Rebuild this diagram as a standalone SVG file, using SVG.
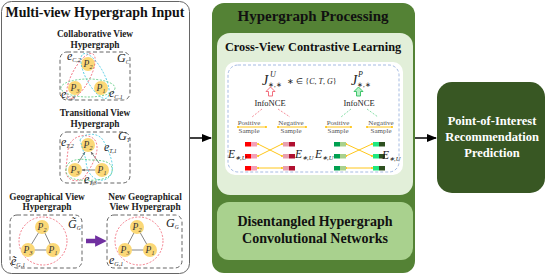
<svg xmlns="http://www.w3.org/2000/svg" width="550" height="276" viewBox="0 0 550 276">
<defs>
<style>
.ser{font-family:"Liberation Serif","Times New Roman",Times,serif}
.it{font-style:italic}
.ttl{font-family:"Liberation Serif","Times New Roman",Times,serif;font-weight:bold;fill:#111}
.sub{font-family:"Liberation Serif","Times New Roman",Times,serif;font-weight:bold;font-size:9.3px;fill:#222;text-anchor:middle}
.gbox{fill:none;stroke:#666;stroke-width:1;stroke-dasharray:4 2.5}
.node{fill:#fbd877;stroke:none}
.pl{font-family:"Liberation Serif","Times New Roman",serif;font-style:italic;font-size:9.5px;fill:#333;text-anchor:middle}
.el{font-family:"Liberation Serif","Times New Roman",serif;font-style:italic;font-size:12px;fill:#222}
.hr{fill:none;stroke:#f06070;stroke-width:0.8;stroke-dasharray:2 1.5}
.hb{fill:none;stroke:#40c8e0;stroke-width:0.8;stroke-dasharray:2 1.5}
.hg{fill:none;stroke:#50c878;stroke-width:0.8;stroke-dasharray:2 1.5}
.edge{stroke:#666;stroke-width:0.8;fill:none}
.ol{stroke:#ffc000;stroke-width:0.9;fill:none;marker-start:url(#dot);marker-end:url(#dot)}
.smp{font-family:"Liberation Serif","Times New Roman",serif;font-size:7px;fill:#555;text-anchor:middle}
.nce{font-family:"Liberation Serif","Times New Roman",serif;font-size:8.5px;fill:#222;text-anchor:middle}
.E{font-family:"Liberation Serif","Times New Roman",serif;font-style:italic;font-size:11.5px;fill:#222}
.wt{fill:#fff}
</style>
<marker id="ah" viewBox="0 0 10 10" refX="9" refY="5" markerWidth="7" markerHeight="7" orient="auto"><path d="M0,1 L10,5 L0,9 z" fill="#000"/></marker>
<marker id="sa" viewBox="0 0 10 10" refX="9" refY="5" markerWidth="4" markerHeight="4" orient="auto"><path d="M0,1 L10,5 L0,9 z" fill="#666"/></marker>
<marker id="pa" viewBox="0 0 10 10" refX="5" refY="5" markerWidth="2.6" markerHeight="2.6" orient="auto"><path d="M0,0 L10,5 L0,10 z" fill="#7030a0"/></marker>
<marker id="dot" viewBox="0 0 4 4" refX="2" refY="2" markerWidth="2.2" markerHeight="2.2"><circle cx="2" cy="2" r="2" fill="#ffc000"/></marker>
</defs>

<!-- Left panel -->
<g id="input-panel">
<rect x="1.5" y="1.5" width="188" height="272" rx="10" fill="#fff" stroke="#666" stroke-width="1"/>
<text class="ttl" x="95" y="17" font-size="15.5" text-anchor="middle" textLength="179" lengthAdjust="spacingAndGlyphs">Multi-view Hypergraph Input</text>
</g>

<g id="collaborative-view">
<text class="sub" x="95" y="37">Collaborative View</text>
<text class="sub" x="95" y="48">Hypergraph</text>
<rect class="gbox" x="60" y="52" width="70" height="48" rx="7"/>
<circle class="node" cx="88" cy="64" r="7"/>
<circle class="node" cx="75" cy="88" r="7"/>
<circle class="node" cx="101" cy="88" r="7"/>
<ellipse class="hr" cx="81" cy="76" rx="25" ry="9" transform="rotate(-62 81 76)"/>
<ellipse class="hb" cx="95" cy="76" rx="25" ry="9" transform="rotate(62 95 76)"/>
<ellipse class="hg" cx="88" cy="88" rx="27" ry="9"/>
<text class="pl" x="88" y="67">P<tspan font-size="6" dy="2">2</tspan></text>
<text class="pl" x="75" y="91">P<tspan font-size="6" dy="2">3</tspan></text>
<text class="pl" x="101" y="91">P<tspan font-size="6" dy="2">1</tspan></text>
<text class="el" x="67" y="60">e<tspan font-size="6" dy="2">C,2</tspan></text>
<text class="el" x="117" y="62" font-size="9.5">G<tspan font-size="5.5" dy="2">C</tspan></text>
<text class="el" x="61" y="98">e<tspan font-size="6" dy="2">C,3</tspan></text>
<text class="el" x="109" y="97">e<tspan font-size="6" dy="2">C,1</tspan></text>
</g>

<g id="transitional-view">
<text class="sub" x="95" y="116">Transitional View</text>
<text class="sub" x="95" y="127">Hypergraph</text>
<rect class="gbox" x="60" y="132" width="70" height="51" rx="7"/>
<circle class="node" cx="88" cy="145" r="7"/>
<circle class="node" cx="75" cy="170" r="7"/>
<circle class="node" cx="102" cy="170" r="7"/>
<line class="edge" x1="78" y1="163" x2="85" y2="152" marker-end="url(#sa)"/>
<line class="edge" x1="99" y1="163" x2="91" y2="152" marker-end="url(#sa)"/>
<line class="edge" x1="95" y1="170" x2="82" y2="170" marker-end="url(#sa)"/>
<path class="hr" d="M68,150 C70,133 92,132 96,142 C100,152 92,166 84,178 C76,184 64,180 66,168 Z"/>
<path class="hb" d="M80,140 C84,132 100,132 104,142 C112,156 118,176 104,180 C92,182 86,170 86,160 Z"/>
<path class="hg" d="M66,170 C66,160 78,158 90,160 C104,160 114,162 112,172 C110,180 94,181 80,180 C70,179 66,176 66,170 Z"/>
<text class="pl" x="88" y="148">P<tspan font-size="6" dy="2">2</tspan></text>
<text class="pl" x="75" y="173">P<tspan font-size="6" dy="2">3</tspan></text>
<text class="pl" x="102" y="173">P<tspan font-size="6" dy="2">1</tspan></text>
<text class="el" x="61" y="146">e<tspan font-size="6" dy="2">T,2</tspan></text>
<text class="el" x="104" y="151">e<tspan font-size="6" dy="2">T,1</tspan></text>
<text class="el" x="84" y="183">e<tspan font-size="6" dy="2">T,3</tspan></text>
<text class="el" x="118" y="140" font-size="9.5">G<tspan font-size="5.5" dy="2">T</tspan></text>
</g>

<g id="geographical-view">
<text class="sub" x="47" y="200">Geographical View</text>
<text class="sub" x="47" y="210">Hypergraph</text>
<rect class="gbox" x="10" y="215" width="72" height="53" rx="7"/>
<circle cx="43" cy="241" r="24" fill="none" stroke="#f06070" stroke-width="0.8" stroke-dasharray="2 1.5"/>
<line class="edge" x1="42" y1="227" x2="28" y2="250"/>
<line class="edge" x1="42" y1="227" x2="53" y2="250"/>
<line class="edge" x1="28" y1="250" x2="53" y2="250"/>
<circle class="node" cx="42" cy="227" r="7"/>
<circle class="node" cx="28" cy="250" r="7"/>
<circle class="node" cx="53" cy="250" r="7"/>
<text class="pl" x="42" y="230">P<tspan font-size="6" dy="2">2</tspan></text>
<text class="pl" x="28" y="253">P<tspan font-size="6" dy="2">3</tspan></text>
<text class="pl" x="53" y="253">P<tspan font-size="6" dy="2">1</tspan></text>
<text class="el" x="68" y="228" font-size="12">G̃<tspan font-size="5.5" dy="2">G</tspan></text>
<text class="el" x="11" y="265">ẽ<tspan font-size="6" dy="2">G,1</tspan></text>
</g>

<g id="geo-transform-arrow">
<line x1="86" y1="241" x2="101" y2="241" stroke="#7030a0" stroke-width="4.5" marker-end="url(#pa)"/>
</g>

<g id="new-geographical-view">
<text class="sub" x="145" y="200">New Geographical</text>
<text class="sub" x="145" y="210">View Hypergraph</text>
<rect class="gbox" x="107" y="215" width="75" height="53" rx="7"/>
<circle cx="139" cy="241" r="24" fill="none" stroke="#f06070" stroke-width="0.8" stroke-dasharray="2 1.5"/>
<line class="edge" x1="137" y1="227" x2="125" y2="250"/>
<line class="edge" x1="137" y1="227" x2="150" y2="250"/>
<line class="edge" x1="125" y1="250" x2="150" y2="250"/>
<circle class="node" cx="137" cy="227" r="7"/>
<circle class="node" cx="125" cy="250" r="7"/>
<circle class="node" cx="150" cy="250" r="7"/>
<text class="pl" x="137" y="230">P<tspan font-size="6" dy="2">2</tspan></text>
<text class="pl" x="125" y="253">P<tspan font-size="6" dy="2">3</tspan></text>
<text class="pl" x="150" y="253">P<tspan font-size="6" dy="2">1</tspan></text>
<text class="el" x="166" y="227" font-size="12">G<tspan font-size="5.5" dy="2">G</tspan></text>
<text class="el" x="109" y="264">e<tspan font-size="6" dy="2">G,1</tspan></text>
</g>

<!-- Middle panel -->
<g id="hypergraph-processing">
<rect x="212" y="3" width="203" height="270" rx="12" fill="#548235"/>
<text class="ttl" x="313" y="21" font-size="15" text-anchor="middle">Hypergraph Processing</text>
</g>

<g id="cross-view-contrastive">
<rect x="217" y="33" width="196" height="162" rx="13" fill="#e2efd9"/>
<text class="ttl" x="313" y="51" font-size="12.3" text-anchor="middle">Cross-View Contrastive Learning</text>
<rect x="225" y="62" width="178" height="113" rx="10" fill="#fff"/>
<rect x="228" y="65" width="171" height="107" rx="10" fill="none" stroke="#8eaadb" stroke-width="0.8" stroke-dasharray="3 2"/>

<text class="ser it" x="262" y="85" font-size="14" fill="#222">J</text>
<text class="ser it" x="270" y="77" font-size="8" fill="#222">U</text>
<text class="ser" x="268" y="87" font-size="7" fill="#222">∗,∗</text>
<path d="M268.5,96 L268.5,91.5 L266,91.5 L270.5,87 L275,91.5 L272.5,91.5 L272.5,96 Z" fill="#fff" stroke="#f06070" stroke-width="0.9"/>
<text class="nce" x="270" y="106">InfoNCE</text>

<text class="ser" x="312" y="84" font-size="8" fill="#222" text-anchor="middle">∗ ∈ {<tspan font-style="italic">C</tspan>, <tspan font-style="italic">T</tspan>, <tspan font-style="italic">G</tspan>}</text>

<text class="ser it" x="351" y="85" font-size="14" fill="#222">J</text>
<text class="ser it" x="358" y="77" font-size="8" fill="#222">P</text>
<text class="ser" x="357" y="87" font-size="7" fill="#222">∗,∗</text>
<path d="M356.5,96 L356.5,91.5 L354,91.5 L358.5,87 L363,91.5 L360.5,91.5 L360.5,96 Z" fill="#b8f0c8" stroke="#30c060" stroke-width="0.9"/>
<text class="nce" x="359" y="106">InfoNCE</text>

<line x1="262" y1="109" x2="252" y2="117" stroke="#f06070" stroke-width="0.7" stroke-dasharray="2 1.5"/>
<line x1="278" y1="109" x2="290" y2="117" stroke="#f06070" stroke-width="0.7" stroke-dasharray="2 1.5"/>
<line x1="351" y1="109" x2="341" y2="117" stroke="#50d080" stroke-width="0.7" stroke-dasharray="2 1.5"/>
<line x1="367" y1="109" x2="378" y2="117" stroke="#50d080" stroke-width="0.7" stroke-dasharray="2 1.5"/>

<line class="ol" x1="238" y1="127" x2="266" y2="127"/>
<line class="ol" x1="278" y1="127" x2="306" y2="127"/>
<line class="ol" x1="326" y1="127" x2="351" y2="127"/>
<line class="ol" x1="367" y1="127" x2="392" y2="127"/>
<text class="smp" x="249" y="125">Positive</text>
<text class="smp" x="249" y="133">Sample</text>
<text class="smp" x="291" y="125">Negative</text>
<text class="smp" x="291" y="133">Sample</text>
<text class="smp" x="338" y="125">Positive</text>
<text class="smp" x="338" y="133">Sample</text>
<text class="smp" x="381" y="125">Negative</text>
<text class="smp" x="381" y="133">Sample</text>

<line class="ol" x1="258" y1="144" x2="282" y2="156"/>
<line class="ol" x1="258" y1="156" x2="282" y2="144"/>
<line class="ol" x1="258" y1="168" x2="282" y2="168"/>
<line class="ol" x1="346" y1="144" x2="372" y2="156"/>
<line class="ol" x1="346" y1="156" x2="372" y2="144"/>
<line class="ol" x1="346" y1="168" x2="372" y2="168"/>

<g id="emb-left">
<rect x="245" y="142" width="6" height="4.5" fill="#ff0000"/><rect x="251" y="142" width="6" height="4.5" fill="#f4a0b8"/>
<rect x="245" y="154" width="6" height="4.5" fill="#ff0000"/><rect x="251" y="154" width="6" height="4.5" fill="#f4a0b8"/>
<rect x="245" y="166" width="6" height="4.5" fill="#ff0000"/><rect x="251" y="166" width="6" height="4.5" fill="#f4a0b8"/>
<rect x="283" y="142" width="6" height="4.5" fill="#e8a0b0"/><rect x="289" y="142" width="6" height="4.5" fill="#b01030"/>
<rect x="283" y="154" width="6" height="4.5" fill="#e8a0b0"/><rect x="289" y="154" width="6" height="4.5" fill="#b01030"/>
<rect x="283" y="166" width="6" height="4.5" fill="#e8a0b0"/><rect x="289" y="166" width="6" height="4.5" fill="#b01030"/>
</g>
<g id="emb-right">
<rect x="334" y="142" width="6" height="4.5" fill="#00a050"/><rect x="340" y="142" width="6" height="4.5" fill="#a9d18e"/>
<rect x="334" y="154" width="6" height="4.5" fill="#00a050"/><rect x="340" y="154" width="6" height="4.5" fill="#a9d18e"/>
<rect x="334" y="166" width="6" height="4.5" fill="#00a050"/><rect x="340" y="166" width="6" height="4.5" fill="#a9d18e"/>
<rect x="373" y="142" width="6" height="4.5" fill="#20e880"/><rect x="379" y="142" width="6" height="4.5" fill="#2e5020"/>
<rect x="373" y="154" width="6" height="4.5" fill="#20e880"/><rect x="379" y="154" width="6" height="4.5" fill="#2e5020"/>
<rect x="373" y="166" width="6" height="4.5" fill="#20e880"/><rect x="379" y="166" width="6" height="4.5" fill="#2e5020"/>
</g>
<text class="E" x="228" y="158">E<tspan font-size="6.5" dy="2">∗,U</tspan></text>
<text class="E" x="295" y="158">E<tspan font-size="6.5" dy="2">∗,U</tspan></text>
<text class="E" x="315" y="158">E<tspan font-size="6.5" dy="2">∗,U</tspan></text>
<text class="E" x="382" y="159">E<tspan font-size="6.5" dy="2">∗,U</tspan></text>
</g>

<g id="disentangled-hgcn">
<rect x="217" y="202" width="196" height="58" rx="12" fill="#a9d18e"/>
<text class="ttl" x="315" y="226" font-size="14" text-anchor="middle">Disentangled Hypergraph</text>
<text class="ttl" x="315" y="243" font-size="14" text-anchor="middle">Convolutional Networks</text>
</g>

<!-- Right box -->
<g id="poi-prediction">
<rect x="437" y="82" width="108" height="111" rx="15" fill="#385723"/>
<text class="ttl wt" x="492" y="125" font-size="12.5" text-anchor="middle">Point-of-Interest</text>
<text class="ttl wt" x="492" y="141" font-size="12.5" text-anchor="middle">Recommendation</text>
<text class="ttl wt" x="492" y="157" font-size="12.5" text-anchor="middle">Prediction</text>
</g>

<g id="connectors">
<line x1="190" y1="138" x2="211" y2="138" stroke="#000" stroke-width="1.5" marker-end="url(#ah)"/>
<line x1="415" y1="138" x2="436" y2="138" stroke="#000" stroke-width="1.5" marker-end="url(#ah)"/>
</g>
</svg>
